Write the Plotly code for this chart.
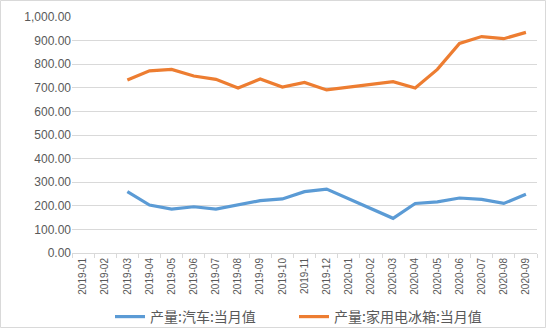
import plotly.graph_objects as go

months = ["2019-01", "2019-02", "2019-03", "2019-04", "2019-05", "2019-06", "2019-07",
          "2019-08", "2019-09", "2019-10", "2019-11", "2019-12", "2020-01", "2020-02",
          "2020-03", "2020-04", "2020-05", "2020-06", "2020-07", "2020-08", "2020-09"]
cars = [None, None, 260, 203, 186, 196, 186, 203, 222, 229, 260, 271, 230, 188,
        147, 210, 217, 233, 227, 210, 249]
fridges = [None, None, 733, 772, 778, 750, 736, 699, 737, 703, 723, 691, 703, 714,
           726, 699, 778, 888, 917, 908, 935]

name_cars = "产量:汽车:当月值"
name_fridges = "产量:家用电冰箱:当月值"

fig = go.Figure()
fig.add_trace(go.Scatter(x=months, y=cars, name=name_cars, mode="lines",
                         line=dict(color="#5B9BD5", width=3.2), connectgaps=False,
                         legend="legend"))
fig.add_trace(go.Scatter(x=months, y=fridges, name=name_fridges, mode="lines",
                         line=dict(color="#ED7D31", width=3.2), connectgaps=False,
                         legend="legend2"))

L, R, T, B = 72, 13, 17, 77
W, H = 550, 330
pw, ph = W - L - R, H - T - B

def px2x(px):
    return (px - L) / pw

def py2y(py):
    return (H - B - py) / ph

fig.add_shape(type="rect", xref="paper", yref="paper",
              x0=px2x(0.5), x1=px2x(545.5), y0=py2y(327.5), y1=py2y(0.5),
              line=dict(color="#D9D9D9", width=1), fillcolor="rgba(0,0,0,0)", layer="below")

legend_style = dict(orientation="h", xref="container", yref="container",
                    xanchor="left", y=1 - 317 / H, yanchor="middle",
                    font=dict(family="Noto Sans CJK SC", size=14, color="#595959"),
                    bgcolor="rgba(0,0,0,0)", itemwidth=30, tracegroupgap=0)

fig.update_layout(
    width=W, height=H,
    margin=dict(l=L, r=R, t=T, b=B, autoexpand=False),
    paper_bgcolor="white", plot_bgcolor="white",
    showlegend=True,
    legend=dict(x=110 / W, **legend_style),
    legend2=dict(x=294 / W, **legend_style),
    xaxis=dict(type="category", tickangle=-90, tickfont=dict(family="Liberation Sans", size=10, color="#595959"),
               showgrid=False, showline=True, linecolor="#D9D9D9", linewidth=1,
               ticks="outside", tickson="boundaries", ticklen=4, tickcolor="#D9D9D9",
               range=[-0.5, len(months) - 0.5], automargin=False),
    yaxis=dict(range=[0, 1000], dtick=100, tickformat=",.2f",
               tickfont=dict(family="Liberation Sans", size=12, color="#595959"),
               showgrid=True, gridcolor="#D9D9D9", gridwidth=1, zeroline=False,
               showline=False, ticks="", automargin=False),
)

fig.write_html("out.html")
